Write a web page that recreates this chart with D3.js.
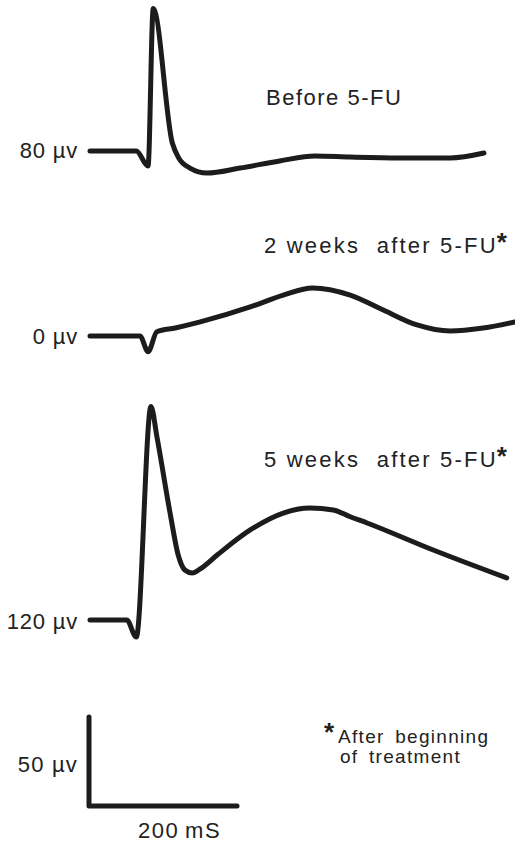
<!DOCTYPE html>
<html lang="en">
<head>
  <meta charset="UTF-8">
  <title>Evoked potentials before and after 5-FU</title>
  <style>
    body { margin: 0; background: #fff; }
    text { font-family: 'Liberation Sans', Arial, sans-serif; fill: #222; }
    .trace { fill: none; stroke: #1c1c1c; stroke-width: 5; stroke-linejoin: round; stroke-linecap: round; }
  </style>
</head>
<body>
  <svg width="515" height="845"></svg>
  <script src="https://cdn.jsdelivr.net/npm/d3@7"></script>
  <script>
    // time in ms, amplitude in microvolts (relative to each trace's baseline)
    var beforeT = [0, 63, 79, 86, 112, 120, 136, 159, 204, 258, 306, 354, 422, 490, 536]
    var beforeV = [0, 0, -8.4, 80, 4.5, -3.4, -9.6, -12.4, -9.6, -5.6, -2.8, -3.4, -3.9, -3.9, -1.1]

    var twoWkT = [0, 68, 79, 91, 116, 150, 218, 263, 303, 354, 399, 445, 490, 535, 578]
    var twoWkV = [0, 0, -8.8, 2.4, 4.5, 7.9, 16.3, 23, 27, 23, 14.6, 6.2, 2.8, 4.5, 7.9]

    var fiveWkT = [0, 50, 63, 83, 91, 109, 120, 129, 139, 150, 173, 218, 263, 299, 331, 354, 377, 467, 567]
    var fiveWkV = [0, 0, -9.6, 120, 103, 60, 36.5, 28.1, 26.4, 28.7, 36.5, 50.6, 60.1, 62.9, 61.8, 58, 54.5, 39.3, 23.6]

    var traceLabels = ['Before 5-FU', '2 weeks  after 5-FU', '5 weeks  after 5-FU']
    var peakLabels = ['80 \u00b5v', '0 \u00b5v', '120 \u00b5v']
    var starred = [false, true, true]

    var barTime = 200
    var barVolt = 50

    var svg = d3.select('svg')

    var x = d3.scaleLinear().domain([0, barTime]).range([90, 237])
    function yFor(base) {
      return d3.scaleLinear().domain([0, barVolt]).range([base, base - 89])
    }

    var traces = [
      { t: beforeT, v: beforeV, base: 151, labelX: 266, labelY: 105, spacing: 1.5, peakY: 158 },
      { t: twoWkT, v: twoWkV, base: 336, labelX: 264, labelY: 253, spacing: 2.2, peakY: 344 },
      { t: fiveWkT, v: fiveWkV, base: 620, labelX: 264, labelY: 467, spacing: 2.2, peakY: 629 }
    ]

    traces.forEach(function(tr, i) {
      var y = yFor(tr.base)
      var pts = tr.t.map(function(t, j) { return [t, tr.v[j]] })
      var line = d3.line()
        .x(function(d) { return x(d[0]) })
        .y(function(d) { return y(d[1]) })
        .curve(d3.curveMonotoneX)

      svg.append('path')
        .attr('class', 'trace')
        .attr('d', line(pts))

      var lab = svg.append('text')
        .attr('x', tr.labelX)
        .attr('y', tr.labelY)
        .attr('font-size', '22px')
        .attr('letter-spacing', tr.spacing + 'px')
        .attr('xml:space', 'preserve')
        .text(traceLabels[i])
      if (starred[i]) {
        lab.append('tspan')
          .attr('dy', -2)
          .attr('dx', -1)
          .attr('font-size', '26px')
          .attr('font-weight', 'bold')
          .text('*')
      }

      svg.append('text')
        .attr('x', 78)
        .attr('y', tr.peakY)
        .attr('text-anchor', 'end')
        .attr('font-size', '22px')
        .attr('letter-spacing', '0.8px')
        .text(peakLabels[i])
    })

    // calibration bar
    var yBar = yFor(806)
    svg.append('path')
      .attr('class', 'trace')
      .attr('d', d3.line()([[x(0) - 1, yBar(barVolt)], [x(0) - 1, yBar(0)], [x(barTime), yBar(0)]]))

    svg.append('text')
      .attr('x', 78)
      .attr('y', 772)
      .attr('text-anchor', 'end')
      .attr('font-size', '22px')
      .attr('letter-spacing', '1.2px')
      .text(barVolt + ' \u00b5v')

    svg.append('text')
      .attr('x', 138)
      .attr('y', 838)
      .attr('font-size', '22px')
      .attr('letter-spacing', '1.5px')
      .text(barTime + '\u2009mS')

    svg.append('text')
      .attr('x', 324)
      .attr('y', 741)
      .attr('font-size', '26px')
      .attr('font-weight', 'bold')
      .text('*')

    var note = svg.append('text')
      .attr('font-size', '19px')
      .attr('letter-spacing', '1.3px')
      .attr('word-spacing', '4px')
    note.append('tspan')
      .attr('x', 338)
      .attr('y', 743)
      .text('After beginning')
    note.append('tspan')
      .attr('x', 340)
      .attr('y', 763)
      .text('of treatment')
  </script>
</body>
</html>
